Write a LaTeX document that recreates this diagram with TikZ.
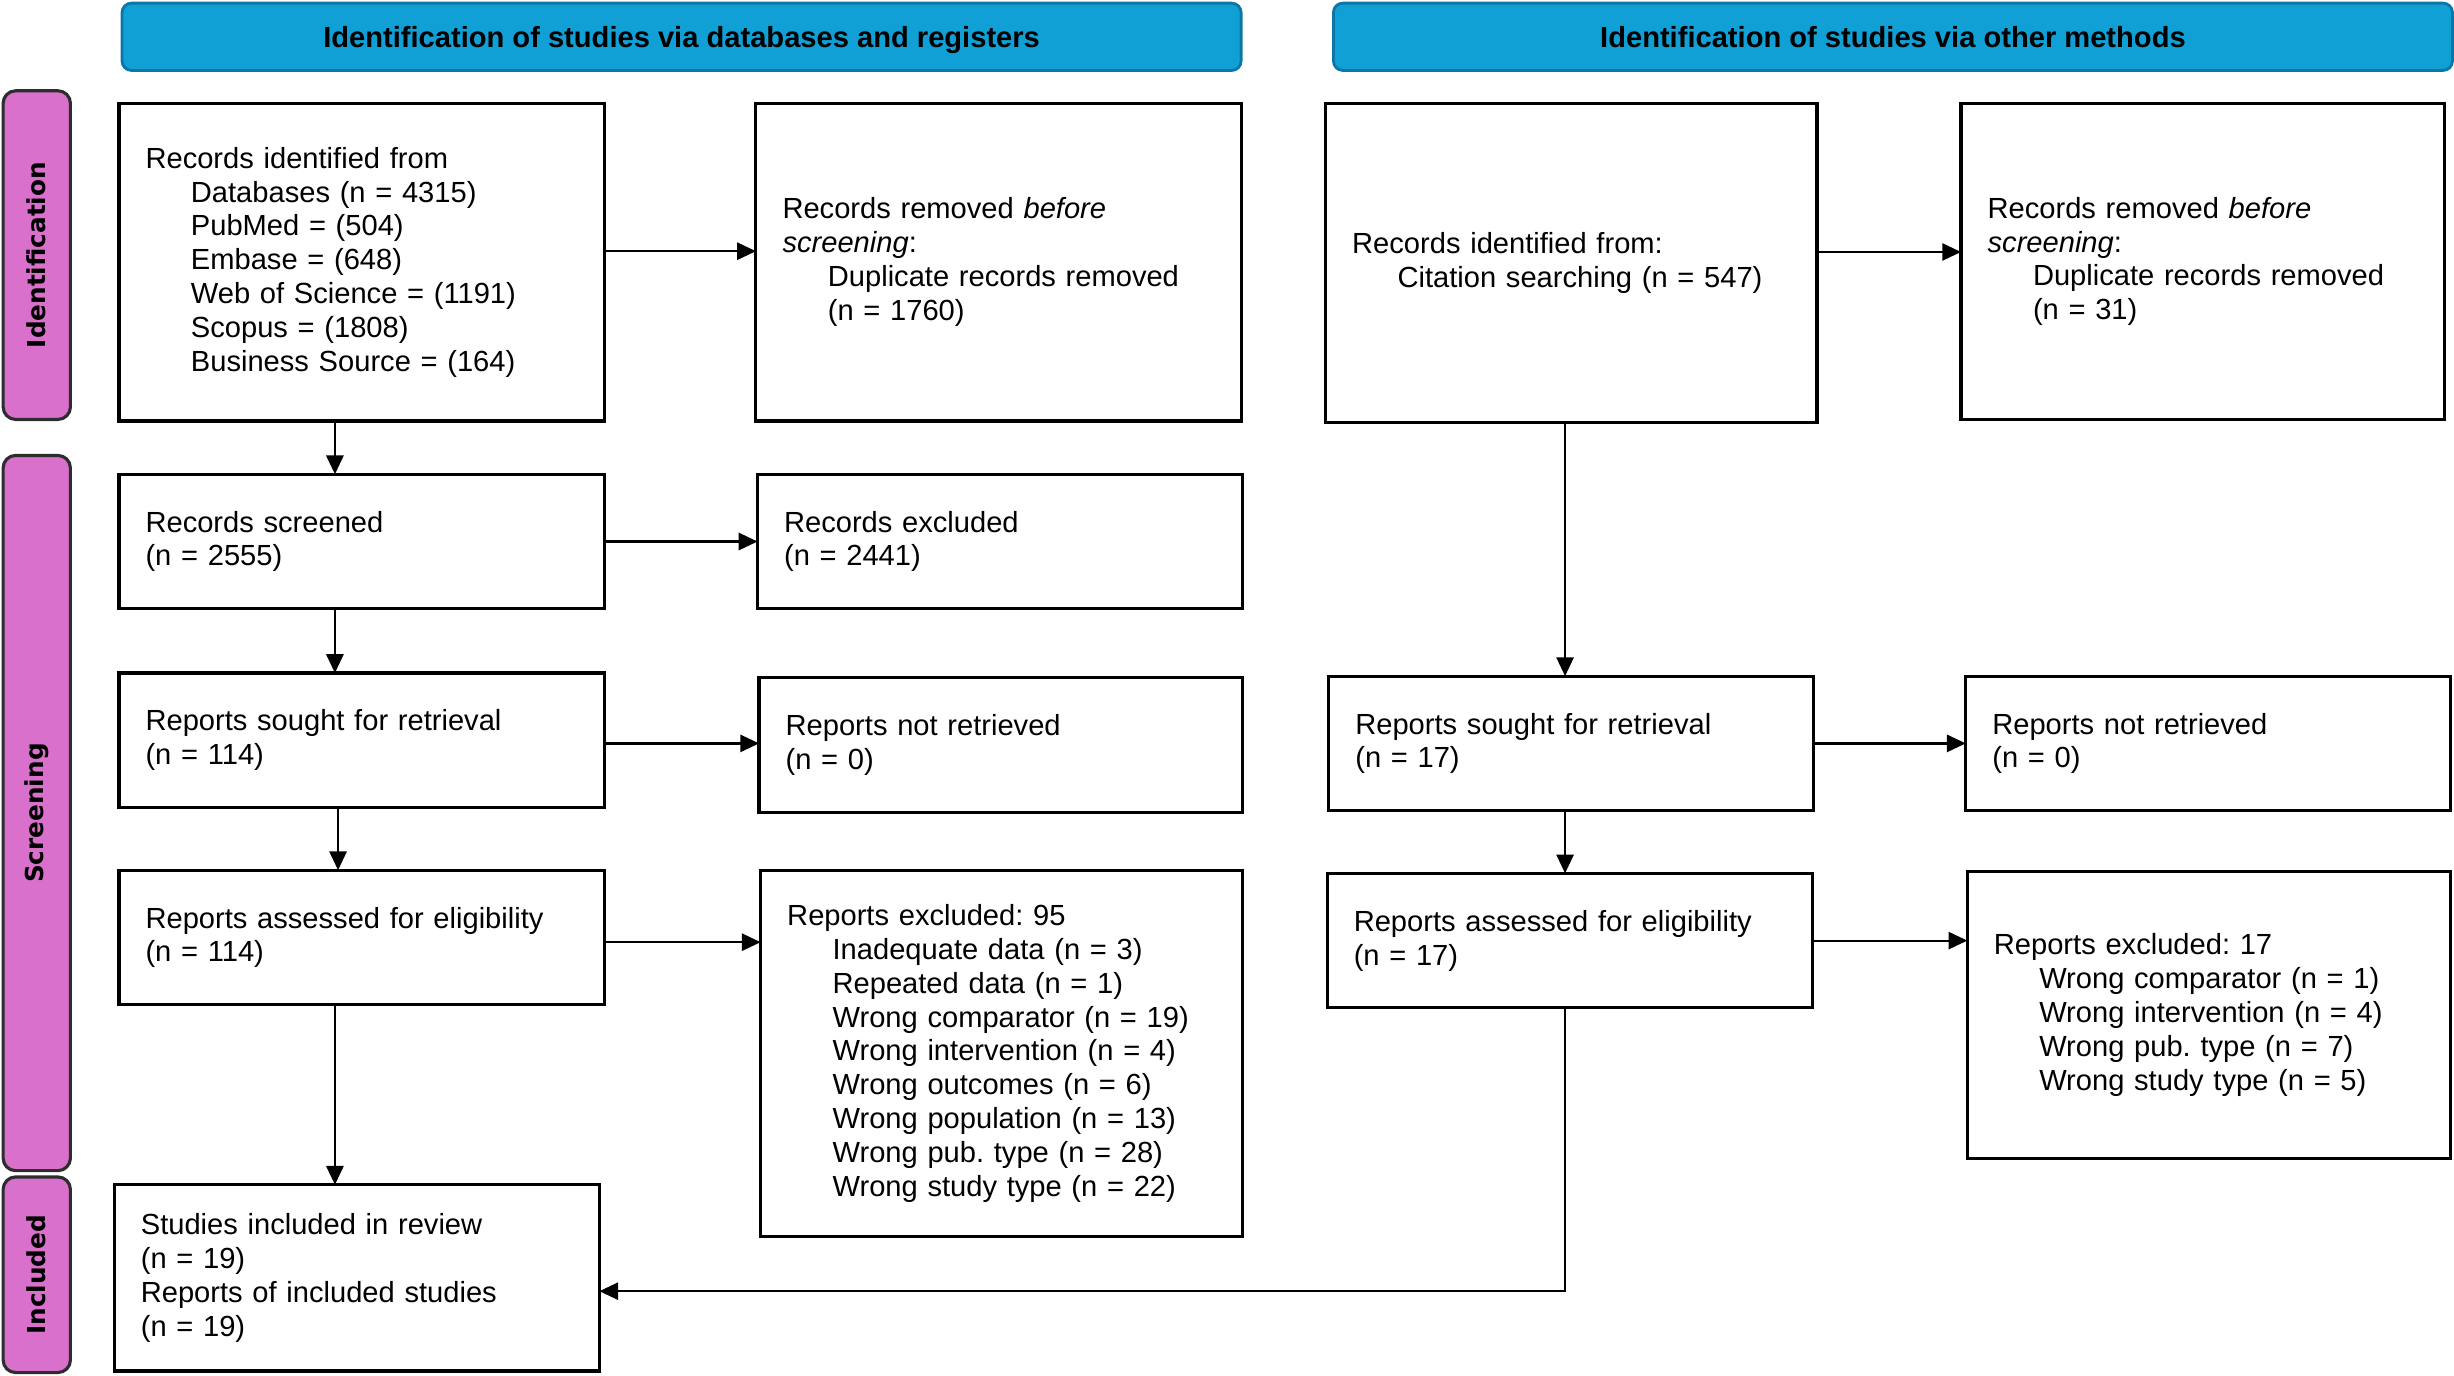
\documentclass[tikz,border=0pt]{standalone}
\usepackage{fontspec}
\setmainfont{Liberation Sans}
\newfontfamily\sidefont{DejaVu Sans}
\usetikzlibrary{arrows.meta}
\definecolor{hdrblue}{RGB}{16,160,214}
\definecolor{hdrborder}{RGB}{12,118,166}
\definecolor{sidepink}{RGB}{216,112,204}
\definecolor{sideborder}{RGB}{45,45,45}
\frenchspacing
\begin{document}
\begin{tikzpicture}[x=0.5pt,y=-0.5pt,
  box/.style 2 args={draw=black, line width=1pt, rectangle, anchor=north west,
    inner xsep=8.5pt, inner ysep=0pt, outer sep=0pt, text width=#1,
    minimum height=#2, align=left, font=\fontsize{9.3}{10.8}\selectfont},
  hdr/.style={draw=hdrborder, fill=hdrblue, line width=0.9pt, rounded corners=3pt,
    anchor=north west, minimum width=357.5pt, minimum height=21.5pt, inner sep=0pt,
    outer sep=0pt, text height=9pt, text depth=2pt,
    font=\bfseries\fontsize{9.3}{10.8}\selectfont},
  side/.style={draw=sideborder, fill=sidepink, line width=1pt, rounded corners=4pt,
    rotate=90, anchor=center, minimum height=21.5pt, inner sep=0pt, outer sep=0pt,
    font=\sidefont\bfseries\fontsize{7.9}{9}\selectfont},
  conn/.style={draw=black, line width=0.7pt, -{Triangle[length=6pt,width=5.5pt]}},
]
\useasboundingbox (0,0) rectangle (1568,878.6);
\newcommand{\ind}{\hspace*{14.5pt}}

% headers
\node[hdr] (h1) at (78,2) {Identification of studies via databases and registers};
\node[hdr] (h2) at (852,2) {Identification of studies via other methods};

% side labels
\node[side, minimum width=105pt] (s1) at (23.5,163) {Identification};
\node[side, minimum width=228.5pt] (s2) at (23.5,519.5) {Screening};
\node[side, minimum width=62.5pt] (s3) at (23.5,814.5) {Included};

% left column
\node[box={138pt}{101.5pt}] (A) at (76,66) {Records identified from\\
  \ind Databases (n = 4315)\\
  \ind PubMed = (504)\\
  \ind Embase = (648)\\
  \ind Web of Science = (1191)\\
  \ind Scopus = (1808)\\
  \ind Business Source = (164)};
\node[box={138pt}{101.5pt}] (B) at (483,66) {Records removed \textit{before}\\
  \textit{screening}:\\
  \ind Duplicate records removed\\
  \ind (n = 1760)};
\node[box={138pt}{43pt}] (C) at (76,303) {Records screened\\(n = 2555)};
\node[box={138pt}{43pt}] (D) at (484,303) {Records excluded\\(n = 2441)};
\node[box={138pt}{43pt}] (E) at (76,430) {Reports sought for retrieval\\(n = 114)};
\node[box={137.5pt}{43pt}] (F) at (485,433) {Reports not retrieved\\(n = 0)};
\node[box={138pt}{43pt}] (G) at (76,556) {Reports assessed for eligibility\\(n = 114)};
\node[box={137pt}{117pt}] (H) at (486,556) {Reports excluded: 95\\
  \ind Inadequate data (n = 3)\\
  \ind Repeated data (n = 1)\\
  \ind Wrong comparator (n = 19)\\
  \ind Wrong intervention (n = 4)\\
  \ind Wrong outcomes (n = 6)\\
  \ind Wrong population (n = 13)\\
  \ind Wrong pub. type (n = 28)\\
  \ind Wrong study type (n = 22)};
\node[box={138pt}{59.5pt}] (I) at (73,757) {Studies included in review\\
  (n = 19)\\
  Reports of included studies\\
  (n = 19)};

% right column
\node[box={140pt}{102pt}] (J) at (847,66) {Records identified from:\\
  \ind Citation searching (n = 547)};
\node[box={137.5pt}{101pt}] (K) at (1253,66) {Records removed \textit{before}\\
  \textit{screening}:\\
  \ind Duplicate records removed\\
  \ind (n = 31)};
\node[box={138pt}{43pt}] (L) at (849,432) {Reports sought for retrieval\\(n = 17)};
\node[box={138pt}{43pt}] (M) at (1256,432) {Reports not retrieved\\(n = 0)};
\node[box={138pt}{43pt}] (N) at (848,558) {Reports assessed for eligibility\\(n = 17)};
\node[box={137.5pt}{91.5pt}] (O) at (1257,557) {Reports excluded: 17\\
  \ind Wrong comparator (n = 1)\\
  \ind Wrong intervention (n = 4)\\
  \ind Wrong pub. type (n = 7)\\
  \ind Wrong study type (n = 5)};

% guide coordinates
\coordinate (lx) at (214,0);
\coordinate (ex) at (216,0);
\coordinate (rx) at (1000,0);
\coordinate (turn) at (1000,825);

% horizontal connectors
\draw[conn] ([yshift=3.5pt]A.east) -- ([yshift=3.5pt]A.east -| B.west);
\draw[conn] (C.east) -- (C.east -| D.west);
\draw[conn] ([yshift=-1pt]E.east) -- ([yshift=-1pt]E.east -| F.west);
\draw[conn] ([yshift=-1.5pt]G.east) -- ([yshift=-1.5pt]G.east -| H.west);
\draw[conn] ([yshift=3.5pt]J.east) -- ([yshift=3.5pt]J.east -| K.west);
\draw[conn] (L.east) -- (L.east -| M.west);
\draw[conn] (N.east) -- (N.east -| O.west);

% vertical connectors
\draw[conn] (A.south -| lx) -- (C.north -| lx);
\draw[conn] (C.south -| lx) -- (E.north -| lx);
\draw[conn] (E.south -| ex) -- (G.north -| ex);
\draw[conn] (G.south -| lx) -- (I.north -| lx);
\draw[conn] (J.south -| rx) -- (L.north -| rx);
\draw[conn] (L.south -| rx) -- (N.north -| rx);
\draw[conn] (N.south -| rx) |- (I.east |- turn);
\end{tikzpicture}
\end{document}
